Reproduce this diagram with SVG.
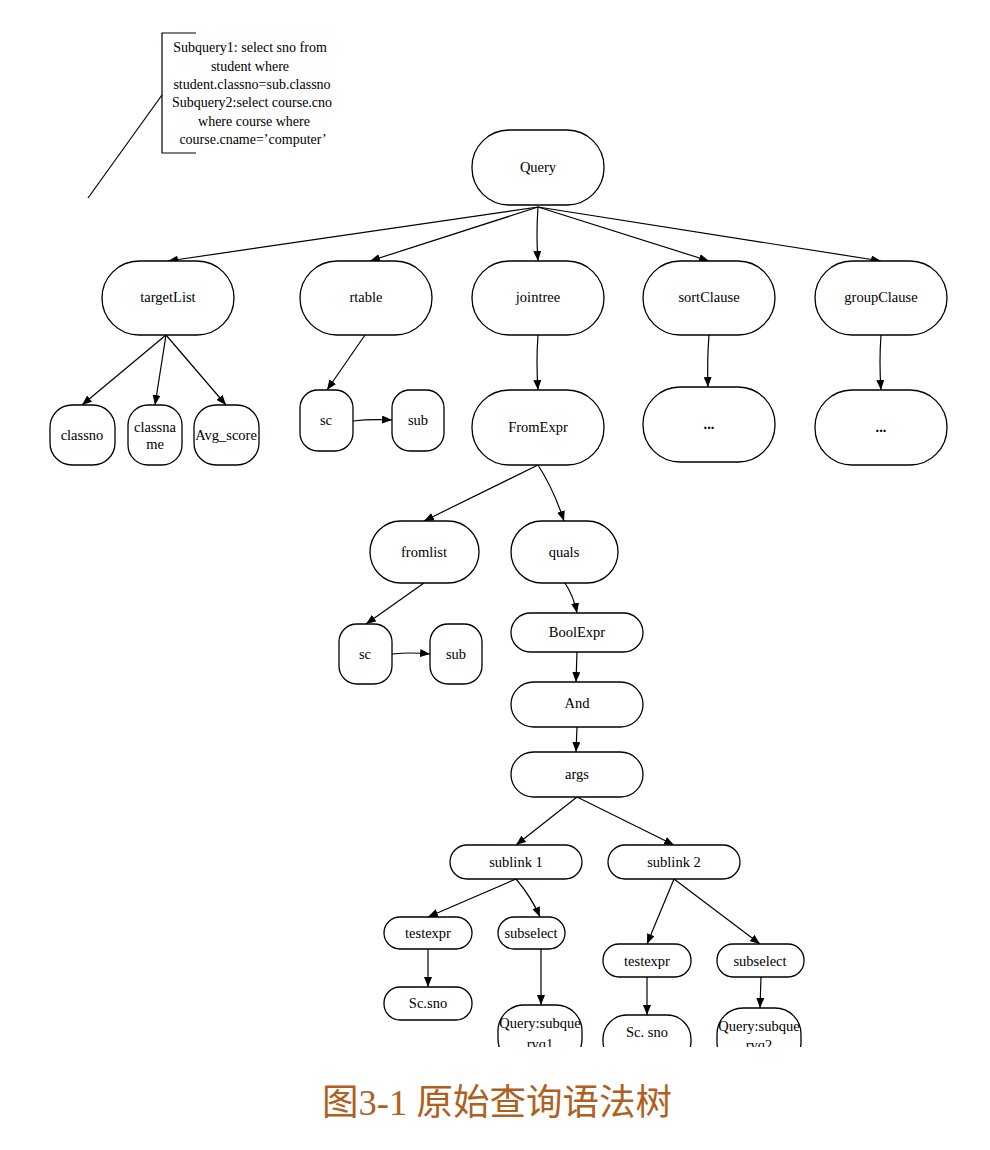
<svg xmlns="http://www.w3.org/2000/svg" width="990" height="1150" viewBox="0 0 990 1150">
<defs>
<marker id="arr" markerWidth="10" markerHeight="8" refX="10" refY="4" orient="auto" markerUnits="userSpaceOnUse">
<path d="M0,0 L10,4 L0,8 z" fill="#000"/>
</marker>
<clipPath id="clipBottom"><rect x="0" y="0" width="990" height="1047"/></clipPath>
</defs>
<style>
.n{fill:#fff;stroke:#000;stroke-width:1.3}
.t{font-family:"Liberation Serif","Times New Roman",serif;font-size:14.5px;fill:#000;text-anchor:middle}
.a{font-family:"Liberation Serif","Times New Roman",serif;font-size:14px;fill:#000;text-anchor:middle}
.e{fill:none;stroke:#000;stroke-width:1.2;marker-end:url(#arr)}
.l{fill:none;stroke:#000;stroke-width:1.2}
.cap{font-family:"Liberation Serif","Noto Sans CJK SC",serif;font-size:36.5px;fill:#b0601e;text-anchor:middle}
</style>
<rect width="990" height="1150" fill="#fff"/>

<g id="annotation">
<path class="l" d="M196,33 L162,33 L162,153 L196,153"/>
<path class="l" d="M162,95 L88,198"/>
<text class="a" x="250" y="52">Subquery1: select sno from</text>
<text class="a" x="250" y="71">student where</text>
<text class="a" x="252" y="89">student.classno=sub.classno</text>
<text class="a" x="252" y="107">Subquery2:select course.cno</text>
<text class="a" x="254" y="126">where course where</text>
<text class="a" x="253" y="144">course.cname=’computer’</text>
</g>

<g id="connectors">
<path class="e" d="M538,207 L168,261"/>
<path class="e" d="M538,207 L370,261"/>
<path class="e" d="M538,207 Q536,235 538,261"/>
<path class="e" d="M538,207 L709,261"/>
<path class="e" d="M538,207 L881,261"/>
<path class="e" d="M166,335 L82,405"/>
<path class="e" d="M166,335 L155,405"/>
<path class="e" d="M166,335 L226,405"/>
<path class="e" d="M365,335 L327,390"/>
<path class="e" d="M353,421 Q370,419 392,420"/>
<path class="e" d="M538,335 Q536,362 538,390"/>
<path class="e" d="M709,335 Q707,360 708,387"/>
<path class="e" d="M881,335 Q879,362 881,390"/>
<path class="e" d="M538,465 L424,521"/>
<path class="e" d="M538,465 Q554,490 564,521"/>
<path class="e" d="M424,583 L366,624"/>
<path class="e" d="M392,654 Q410,652 430,654"/>
<path class="e" d="M565,583 Q574,597 577,613"/>
<path class="e" d="M577,652 L576,682"/>
<path class="e" d="M577,727 L576,752"/>
<path class="e" d="M577,797 L516,845"/>
<path class="e" d="M577,797 L674,845"/>
<path class="e" d="M516,879 L428,917"/>
<path class="e" d="M516,879 Q532,898 540,917"/>
<path class="e" d="M428,949 L428,987"/>
<path class="e" d="M541,949 L541,1005"/>
<path class="e" d="M674,879 L647,944"/>
<path class="e" d="M674,879 L760,944"/>
<path class="e" d="M647,977 L647,1015"/>
<path class="e" d="M761,977 L760,1008"/>
</g>

<g id="query"><rect class="n" x="472" y="130" width="132" height="75" rx="37"/><text class="t" x="538" y="172">Query</text></g>
<g id="targetList"><rect class="n" x="102" y="261" width="132" height="74" rx="37"/><text class="t" x="168" y="302">targetList</text></g>
<g id="rtable"><rect class="n" x="300" y="261" width="132" height="74" rx="37"/><text class="t" x="366" y="302">rtable</text></g>
<g id="jointree"><rect class="n" x="472" y="261" width="132" height="74" rx="37"/><text class="t" x="538" y="302">jointree</text></g>
<g id="sortClause"><rect class="n" x="643" y="261" width="132" height="74" rx="37"/><text class="t" x="709" y="302">sortClause</text></g>
<g id="groupClause"><rect class="n" x="815" y="261" width="132" height="74" rx="37"/><text class="t" x="881" y="302">groupClause</text></g>

<g id="classno"><rect class="n" x="50" y="405" width="65" height="60" rx="22"/><text class="t" x="82" y="440">classno</text></g>
<g id="classname"><rect class="n" x="128" y="405" width="54" height="60" rx="20"/><text class="t" x="155" y="432">classna</text><text class="t" x="155" y="449">me</text></g>
<g id="avgscore"><rect class="n" x="194" y="405" width="65" height="60" rx="22"/><text class="t" x="226" y="440">Avg_score</text></g>
<g id="sc1"><rect class="n" x="300" y="390" width="53" height="61" rx="18"/><text class="t" x="326" y="425">sc</text></g>
<g id="sub1"><rect class="n" x="392" y="390" width="52" height="61" rx="18"/><text class="t" x="418" y="425">sub</text></g>
<g id="sortDots"><rect class="n" x="643" y="387" width="132" height="75" rx="37"/><text class="t" x="709" y="429" font-weight="bold">...</text></g>
<g id="groupDots"><rect class="n" x="815" y="390" width="132" height="75" rx="37"/><text class="t" x="881" y="432" font-weight="bold">...</text></g>

<g id="fromExpr"><rect class="n" x="472" y="390" width="132" height="75" rx="37"/><text class="t" x="538" y="432">FromExpr</text></g>
<g id="fromlist"><rect class="n" x="370" y="521" width="109" height="62" rx="31"/><text class="t" x="424" y="557">fromlist</text></g>
<g id="quals"><rect class="n" x="511" y="521" width="107" height="62" rx="31"/><text class="t" x="564" y="557">quals</text></g>
<g id="sc2"><rect class="n" x="339" y="624" width="53" height="60" rx="18"/><text class="t" x="365" y="659">sc</text></g>
<g id="sub2"><rect class="n" x="430" y="624" width="52" height="60" rx="18"/><text class="t" x="456" y="659">sub</text></g>
<g id="boolExpr"><rect class="n" x="511" y="613" width="132" height="39" rx="19.5"/><text class="t" x="577" y="637">BoolExpr</text></g>
<g id="and"><rect class="n" x="511" y="682" width="132" height="45" rx="22.5"/><text class="t" x="577" y="708">And</text></g>
<g id="args"><rect class="n" x="511" y="752" width="132" height="45" rx="22.5"/><text class="t" x="577" y="779">args</text></g>

<g id="sublink1"><rect class="n" x="450" y="845" width="132" height="34" rx="17"/><text class="t" x="516" y="867">sublink 1</text></g>
<g id="sublink2"><rect class="n" x="608" y="845" width="132" height="34" rx="17"/><text class="t" x="674" y="867">sublink 2</text></g>
<g id="testexpr1"><rect class="n" x="384" y="917" width="88" height="32" rx="16"/><text class="t" x="428" y="938">testexpr</text></g>
<g id="subselect1"><rect class="n" x="498" y="917" width="67" height="32" rx="16"/><text class="t" x="531" y="938">subselect</text></g>
<g id="scsno1"><rect class="n" x="384" y="987" width="88" height="33" rx="16"/><text class="t" x="428" y="1008">Sc.sno</text></g>
<g id="testexpr2"><rect class="n" x="603" y="944" width="88" height="33" rx="16"/><text class="t" x="647" y="966">testexpr</text></g>
<g id="subselect2"><rect class="n" x="717" y="944" width="87" height="33" rx="16"/><text class="t" x="760" y="966">subselect</text></g>

<g clip-path="url(#clipBottom)">
<g id="querySub1"><rect class="n" x="498" y="1005" width="84" height="60" rx="26"/><text class="t" x="540" y="1028">Query:subque</text><text class="t" x="540" y="1049">ryq1</text></g>
<g id="scsno2"><rect class="n" x="603" y="1015" width="88" height="50" rx="24"/><text class="t" x="647" y="1037">Sc. sno</text></g>
<g id="querySub2"><rect class="n" x="717" y="1008" width="84" height="60" rx="26"/><text class="t" x="759" y="1031">Query:subque</text><text class="t" x="759" y="1050">ryq2</text></g>
</g>

<g id="caption"><text class="cap" x="497" y="1115">图3-1 原始查询语法树</text></g>
</svg>
